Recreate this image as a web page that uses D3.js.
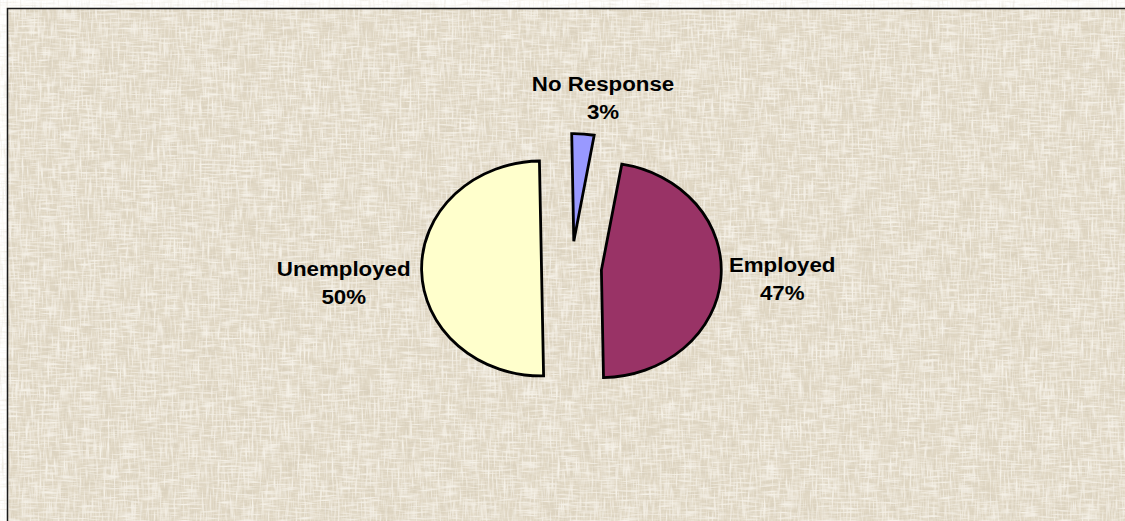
<!DOCTYPE html>
<html>
<head>
<meta charset="utf-8">
<script src="https://cdn.jsdelivr.net/npm/d3@7"></script>
<style>
  html, body { margin: 0; padding: 0; background: #ffffff; overflow: hidden; }
  svg { display: block; }
  text { font-family: "Liberation Sans", Arial, Helvetica, sans-serif; font-weight: bold; fill: #000; }
</style>
</head>
<body>
<svg id="chart" width="1125" height="521"></svg>
<script>
// ---- data ----
const categories = ["No Response", "Employed", "Unemployed"];
const values = [3, 47, 50];
const percentLabels = ["3%", "47%", "50%"];
const colors = ["#9999FF", "#993366", "#FFFFCC"];

// ---- layout ----
const W = 1125, H = 521;
const cx = 571.5, cy = 268;
const R = 107.5;          // pie radius (vertical)
const sx = 1.115;         // horizontal stretch of the picture
const explode = 26.9;     // explosion distance in pie space
const rot = -1 * Math.PI / 180;

const svg = d3.select("#chart");
const defs = svg.append("defs");

function texFilter(id, fv, fh, s1, s2, rgb, gain, bias) {
  const f = defs.append("filter").attr("id", id)
    .attr("x", 0).attr("y", 0).attr("width", W).attr("height", H)
    .attr("filterUnits", "userSpaceOnUse");
  f.append("feTurbulence").attr("type", "fractalNoise").attr("baseFrequency", fv)
    .attr("numOctaves", 2).attr("seed", s1).attr("result", "v");
  f.append("feTurbulence").attr("type", "fractalNoise").attr("baseFrequency", fh)
    .attr("numOctaves", 2).attr("seed", s2).attr("result", "h");
  const mv = `0 0 0 0 ${rgb[0]}  0 0 0 0 ${rgb[1]}  0 0 0 0 ${rgb[2]}  ${gain} 0 0 0 ${bias}`;
  f.append("feColorMatrix").attr("in", "v").attr("type", "matrix").attr("values", mv).attr("result", "a");
  f.append("feColorMatrix").attr("in", "h").attr("type", "matrix").attr("values", mv).attr("result", "b");
  const m = f.append("feMerge");
  m.append("feMergeNode").attr("in", "a");
  m.append("feMergeNode").attr("in", "b");
}
texFilter("darkTex", "0.45 0.05", "0.05 0.45", 4, 9, [0.62, 0.56, 0.45], 2.6, -1.3);
texFilter("lightTex", "0.5 0.05", "0.05 0.5", 21, 33, [0.98, 0.96, 0.91], 2.6, -1.15);

// chart area background
const bx = 7.5, by = 8.5;
svg.append("rect").attr("x", bx).attr("y", by).attr("width", W + 20).attr("height", H + 20)
  .attr("fill", "#E0D7C4");
svg.append("rect").attr("x", bx).attr("y", by).attr("width", W + 20).attr("height", H + 20)
  .attr("fill", "#000").attr("filter", "url(#darkTex)").attr("opacity", 0.4);
svg.append("rect").attr("x", bx).attr("y", by).attr("width", W + 20).attr("height", H + 20)
  .attr("fill", "#fff").attr("filter", "url(#lightTex)").attr("opacity", 0.75);
svg.append("rect").attr("x", bx).attr("y", by).attr("width", W + 20).attr("height", H + 20)
  .attr("fill", "none").attr("stroke", "#1a1a1a").attr("stroke-width", 1.5);

// ---- pie ----
const data = categories.map((c, i) => ({ name: c, value: values[i], label: percentLabels[i], color: colors[i] }));
const pie = d3.pie().sort(null).value(d => d.value)
  .startAngle(rot).endAngle(rot + 2 * Math.PI);
const arcs = pie(data);
const arc = d3.arc().innerRadius(0).outerRadius(R);

const g = svg.append("g").attr("transform", `translate(${cx},${cy}) scale(${sx},1)`);

arcs.forEach(a => {
  const mid = (a.startAngle + a.endAngle) / 2;
  a.mid = mid;
  a.dx = Math.sin(mid) * explode;
  a.dy = -Math.cos(mid) * explode;
});

g.selectAll("path.slice").data(arcs).enter().append("path")
  .attr("class", "slice")
  .attr("transform", d => `translate(${d.dx},${d.dy})`)
  .attr("d", arc)
  .attr("fill", d => d.data.color)
  .attr("stroke", "#000")
  .attr("stroke-width", 2.8)
  .attr("stroke-linejoin", "miter")
  .attr("vector-effect", "non-scaling-stroke");

// ---- labels ----
const fontSize = 20, lineGap = 27.5;
arcs.forEach(a => {
  const ox = cx + (a.dx + Math.sin(a.mid) * R) * sx;
  const oy = cy + (a.dy - Math.cos(a.mid) * R);
  const lg = svg.append("g");
  const t = lg.append("text").attr("text-anchor", "middle").style("font-size", fontSize + "px");
  t.append("tspan").attr("x", 0).attr("y", 0).text(a.data.name);
  t.append("tspan").attr("x", 0).attr("y", lineGap).text(a.data.label);
  const wNat = Math.max(...t.selectAll("tspan").nodes().map(n => n.getComputedTextLength()));
  const w = wNat * sx;
  const s = Math.sin(a.mid);
  let centerX, base1;
  if (Math.abs(s) < 0.5) {
    centerX = ox + 20;
    base1 = oy - 15 - lineGap;
  } else if (s > 0) {
    centerX = ox + 8 + w / 2;
    base1 = oy - 6;
  } else {
    centerX = ox - 11 - w / 2;
    base1 = oy + 6;
  }
  lg.attr("transform", `translate(${centerX},${base1}) scale(${sx},1)`);
});
</script>
</body>
</html>
